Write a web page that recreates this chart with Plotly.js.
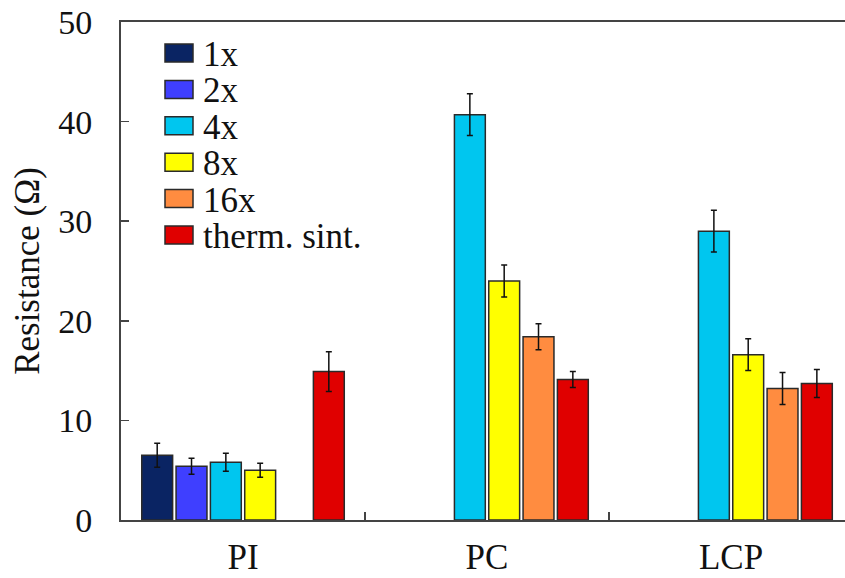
<!DOCTYPE html>
<html>
<head>
<meta charset="utf-8">
<script src="https://cdn.plot.ly/plotly-3.0.1.min.js"></script>
<style>html,body{margin:0;padding:0;background:#fff;}#chart{width:845px;height:578px;}</style>
</head>
<body>
<div id="chart"></div>
<script>
var categories = ["PI", "PC", "LCP"];
var seriesNames = ["1x", "2x", "4x", "8x", "16x", "therm. sint."];
var seriesColors = ["#0a2463", "#3f3fff", "#00c6ef", "#ffff00", "#ff8c40", "#e00000"];
var v1x = [6.5, null, null];
var v2x = [5.4, null, null];
var v4x = [5.8, 40.7, 29.0];
var v8x = [5.0, 24.0, 16.6];
var v16x = [null, 18.4, 13.2];
var vTherm = [14.9, 14.1, 13.7];
var e1x = [1.2, null, null];
var e2x = [0.8, null, null];
var e4x = [0.9, 2.1, 2.1];
var e8x = [0.7, 1.6, 1.6];
var e16x = [null, 1.3, 1.6];
var eTherm = [2.0, 0.8, 1.4];

var values = [v1x, v2x, v4x, v8x, v16x, vTherm];
var errors = [e1x, e2x, e4x, e8x, e16x, eTherm];

var font = "'Liberation Serif', 'Times New Roman', serif";
var traces = seriesNames.map(function (name, i) {
  return {
    type: "bar",
    name: name,
    x: categories,
    y: values[i],
    marker: {color: seriesColors[i], line: {color: "#2a2a2a", width: 1.5}},
    error_y: {type: "data", array: errors[i], visible: true, color: "#111111", thickness: 1.5, width: 3}
  };
});

// Legend drawn as swatches + text (layout geometry, in pixels of the plot area)
var plotL = 121, plotT = 22, plotW = 724, plotH = 498;
function px2x(p) { return (p - plotL) / plotW; }
function py2y(p) { return (plotT + plotH - p) / plotH; }
var legRow0 = 53, legStep = 36.4, swL = 165, swR = 193, swH = 18, txtL = 202;
var shapes = [], annotations = [];
seriesNames.forEach(function (name, i) {
  var cy = legRow0 + i * legStep;
  shapes.push({type: "rect", xref: "paper", yref: "paper",
    x0: px2x(swL), x1: px2x(swR), y0: py2y(cy + swH / 2), y1: py2y(cy - swH / 2),
    fillcolor: seriesColors[i], line: {color: "#2a2a2a", width: 1.5}});
  annotations.push({xref: "paper", yref: "paper", x: px2x(txtL), y: py2y(cy + 1),
    xanchor: "left", yanchor: "middle", showarrow: false, text: name,
    height: 34, borderpad: 0, valign: "middle",
    font: {family: font, size: 35, color: "#111111"}});
});

var layout = {
  width: 845, height: 578,
  margin: {l: plotL, r: 0, t: plotT, b: 578 - plotT - plotH},
  paper_bgcolor: "#ffffff", plot_bgcolor: "#ffffff",
  barmode: "group", bargap: 0.156, bargroupgap: 0.1,
  font: {family: font, size: 34, color: "#111111"},
  showlegend: false,
  shapes: shapes, annotations: annotations,
  xaxis: {
    type: "category", range: [-0.5, 2.467], showgrid: false, zeroline: false,
    showline: true, linecolor: "#444444", linewidth: 2, mirror: true,
    ticks: "inside", tickson: "boundaries", ticklen: 8, tickwidth: 1.5, tickcolor: "#444444",
    ticklabelstandoff: 5,
    tickfont: {family: font, size: 35, color: "#111111"}
  },
  yaxis: {
    range: [0, 50], dtick: 10, showgrid: false, zeroline: false,
    showline: true, linecolor: "#444444", linewidth: 2,
    ticks: "inside", ticklen: 8, tickwidth: 1.5, tickcolor: "#444444",
    ticklabelstandoff: 20,
    tickfont: {family: font, size: 34, color: "#111111"},
    title: {text: "Resistance (Ω)", standoff: 8, font: {family: font, size: 35, color: "#111111"}}
  }
};

Plotly.newPlot("chart", traces, layout, {displayModeBar: false, staticPlot: true});
</script>
</body>
</html>
